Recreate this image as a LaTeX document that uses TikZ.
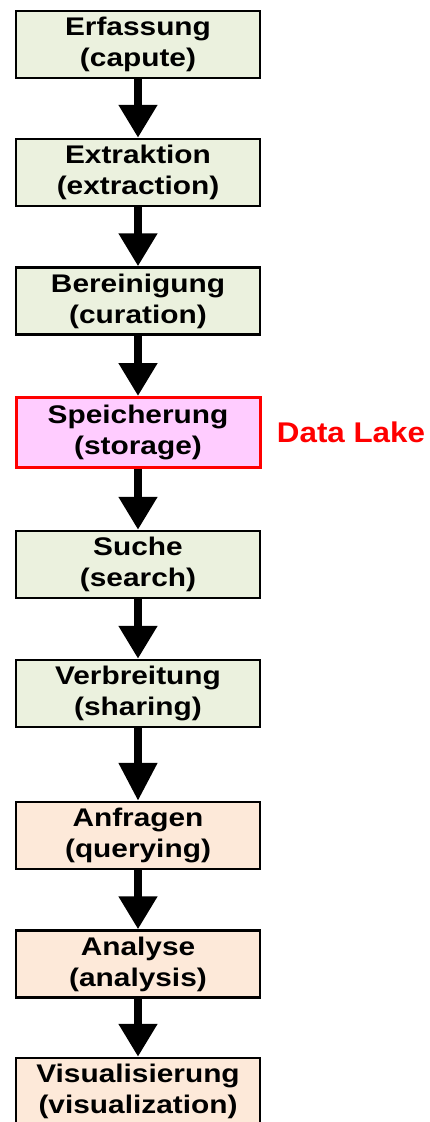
\documentclass[tikz,border=0pt]{standalone}
\usepackage{fontspec}
\setmainfont{Liberation Sans}[FakeStretch=1.17]
\newfontfamily\lakefont{Liberation Sans}[FakeStretch=1.1]
\usepackage{tikz}
\usetikzlibrary{arrows.meta,positioning}
\definecolor{stepgreen}{HTML}{EBF1DE}
\definecolor{steppink}{HTML}{FFCCFF}
\definecolor{steppeach}{HTML}{FDE9D9}

\begin{document}
\begin{tikzpicture}[x=1pt, y=-1pt]
    \tikzset{
        prep/.style={draw=black, fill=stepgreen, rectangle, minimum height=67pt, minimum width=244pt, align=center, font=\fontsize{25.5}{31}\selectfont\bfseries, line width=2.5pt, inner sep=0pt},
        store/.style={prep, draw=red, fill=steppink, line width=3pt, minimum height=70pt},
        use/.style={prep, fill=steppeach},
        lake/.style={text=red, font=\lakefont\fontsize{28.5}{34}\selectfont\bfseries},
        line/.style={draw, line width=8pt, -{Triangle[width=37pt, length=33pt]}}
    }
    \useasboundingbox (0,0) rectangle (430,1122);

    % Preparation steps
    \node[prep] (capture) at (138, 44.5) {Erfassung\\(capute)};
    \node[prep] (extract) at (138, 172.5) {Extraktion\\(extraction)};
    \node[prep] (curate) at (138, 301) {Bereinigung\\(curation)};

    % Storage
    \node[store] (storage) at (138, 432.5) {Speicherung\\(storage)};
    \node[lake] (datalake) at (351, 432) {Data Lake};

    \node[prep] (search) at (138, 564.5) {Suche\\(search)};
    \node[prep] (share) at (138, 693.5) {Verbreitung\\(sharing)};

    % Usage steps
    \node[use] (query) at (138, 835.5) {Anfragen\\(querying)};
    \node[use] (analyse) at (138, 964) {Analyse\\(analysis)};
    \node[use] (visual) at (138, 1091.5) {Visualisierung\\(visualization)};

    % Flow
    \path[line] (capture) -- (extract);
    \path[line] (extract) -- (curate);
    \path[line] (curate) -- (storage);
    \path[line] (storage) -- (search);
    \path[line] (search) -- (share);
    \path[line, -{Triangle[width=37pt, length=38pt]}] (share) -- (query);
    \path[line] (query) -- (analyse);
    \path[line] (analyse) -- (visual);

\end{tikzpicture}
\end{document}
